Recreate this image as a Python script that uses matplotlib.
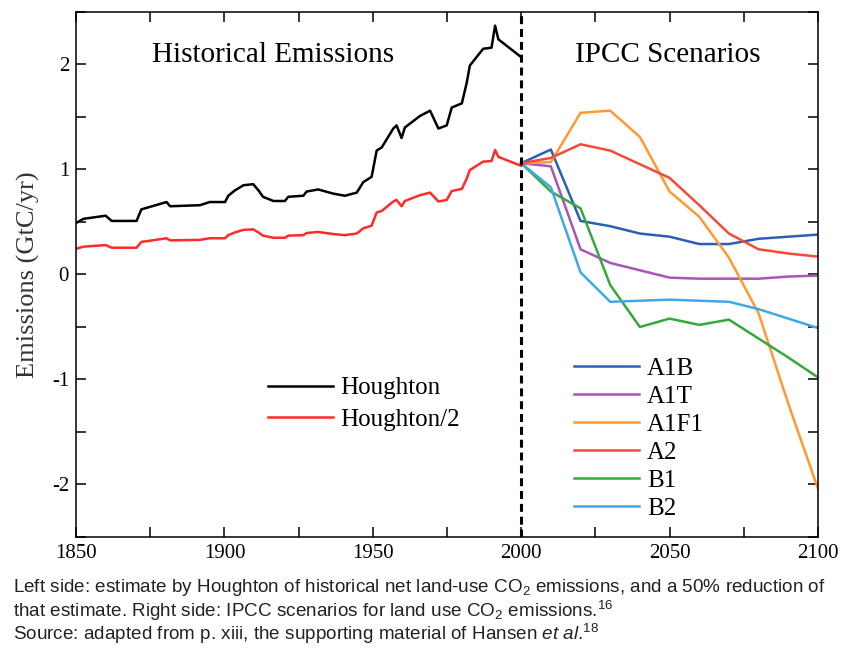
import numpy as np
import matplotlib
matplotlib.use('Agg')
import matplotlib.pyplot as plt
from matplotlib.ticker import MultipleLocator

plt.rcParams['font.family'] = ['Liberation Serif', 'DejaVu Serif']
plt.rcParams['mathtext.fontset'] = 'custom'
plt.rcParams['mathtext.rm'] = 'Liberation Sans'
plt.rcParams['mathtext.it'] = 'Liberation Sans:italic'
plt.rcParams['axes.unicode_minus'] = False

# historical net land-use emissions (Houghton), GtC/yr
hist_years = [1850, 1852.5, 1860, 1862, 1870.4, 1872, 1880.5, 1881.7, 1891.8, 1895,
              1900.2, 1901.3, 1903.5, 1906.4, 1909.7, 1911.5, 1913, 1916.5, 1920.4,
              1921.5, 1926.6, 1927.7, 1931.6, 1936.7, 1940.6, 1944.6, 1946.8, 1949.6,
              1951.3, 1953, 1956.9, 1958, 1959.7, 1960.8, 1965.9, 1969.3, 1972.1,
              1974.9, 1976.6, 1980, 1981.6, 1982.7, 1987.2, 1990, 1991.2, 1992.3, 2000]
houghton = [0.49, 0.53, 0.56, 0.51, 0.51, 0.62, 0.69, 0.65, 0.66, 0.69,
            0.69, 0.75, 0.80, 0.85, 0.86, 0.80, 0.74, 0.70, 0.70,
            0.74, 0.75, 0.79, 0.81, 0.77, 0.75, 0.78, 0.88, 0.93,
            1.18, 1.21, 1.39, 1.42, 1.30, 1.40, 1.51, 1.56, 1.39,
            1.42, 1.59, 1.63, 1.82, 1.99, 2.15, 2.16, 2.37, 2.24, 2.07]

# IPCC land-use scenarios
scen_years = [2000, 2010, 2020, 2030, 2040, 2050, 2060, 2070, 2080, 2090, 2100]
a1b = [1.06, 1.19, 0.51, 0.46, 0.39, 0.36, 0.29, 0.29, 0.34, 0.36, 0.38]
a1t = [1.06, 1.03, 0.24, 0.11, 0.04, -0.03, -0.04, -0.04, -0.04, -0.02, -0.01]
a1f1 = [1.06, 1.07, 1.54, 1.56, 1.31, 0.79, 0.55, 0.16, -0.37, -1.23, -2.04]
a2 = [1.06, 1.11, 1.24, 1.18, 1.05, 0.92, 0.66, 0.39, 0.24, 0.20, 0.17]
b1 = [1.06, 0.79, 0.63, -0.10, -0.50, -0.42, -0.48, -0.43, -0.61, -0.79, -0.98]
b2 = [1.06, 0.83, 0.02, -0.26, -0.25, -0.24, -0.25, -0.26, -0.33, -0.42, -0.51]

scen_names = ['A1B', 'A1T', 'A1F1', 'A2', 'B1', 'B2']
scen_colors = ['#2b5fb4', '#a855b5', '#ff9a33', '#f5493a', '#35a83e', '#3fa9e8']

fig = plt.figure(figsize=(8.43, 6.48), dpi=100)
ax = fig.add_axes([0.0902, 0.1713, 0.8801, 0.8102])

hist = np.array(houghton)
l1, = ax.plot(hist_years, hist, color='black', lw=1.8, label='Houghton')
l2, = ax.plot(hist_years, hist / 2, color='#ff2a2a', lw=1.8, label='Houghton/2')

scen_lines = []
for name, vals, c in zip(scen_names, [a1b, a1t, a1f1, a2, b1, b2], scen_colors):
    ln, = ax.plot(scen_years, vals, color=c, lw=1.8, label=name)
    scen_lines.append(ln)

ax.axvline(2000, color='black', lw=2.2, dashes=(2.6, 1.6))

ax.set_xlim(1850, 2100)
ax.set_ylim(-2.5, 2.5)
ax.xaxis.set_major_locator(MultipleLocator(50))
ax.xaxis.set_minor_locator(MultipleLocator(25))
ax.yaxis.set_major_locator(MultipleLocator(1))
ax.yaxis.set_minor_locator(MultipleLocator(0.5))
ax.tick_params(which='both', direction='in', length=7, width=1.1,
               top=True, right=True, labelsize=15, pad=5)
for s in ax.spines.values():
    s.set_linewidth(1.1)

ax.set_ylabel('Emissions (GtC/yr)', fontsize=19, color='#333333')
ax.yaxis.set_label_coords(-0.0485, 0.5)

ax.text(1916.4, 2.09, 'Historical Emissions', fontsize=21, ha='center', va='center')
ax.text(2049.5, 2.09, 'IPCC Scenarios', fontsize=21, ha='center', va='center')

leg1 = ax.legend(handles=[l1, l2], loc='upper left', bbox_to_anchor=(0.2585, 0.305),
                 frameon=False, fontsize=18, handlelength=2.6, handletextpad=0.3,
                 labelspacing=0.36, borderaxespad=0, borderpad=0)
ax.add_artist(leg1)
ax.legend(handles=scen_lines, loc='upper left', bbox_to_anchor=(0.6715, 0.342),
          frameon=False, fontsize=18, handlelength=2.6, handletextpad=0.3,
          labelspacing=0.22, borderaxespad=0, borderpad=0)

cap_font = dict(fontsize=13.6, family='Liberation Sans', color='#222222')
fig.text(0.0154, 1 - 588 / 648,
         'Left side: estimate by Houghton of historical net land-use CO$_2$ emissions, and a 50% reduction of',
         va='center', **cap_font)
fig.text(0.0154, 1 - 611 / 648,
         'that estimate. Right side: IPCC scenarios for land use CO$_2$ emissions.$^{16}$',
         va='center', **cap_font)
fig.text(0.0154, 1 - 634 / 648,
         'Source: adapted from p. xiii, the supporting material of Hansen $et$ $al$.$^{18}$',
         va='center', **cap_font)

fig.savefig('out.png', dpi=100)
